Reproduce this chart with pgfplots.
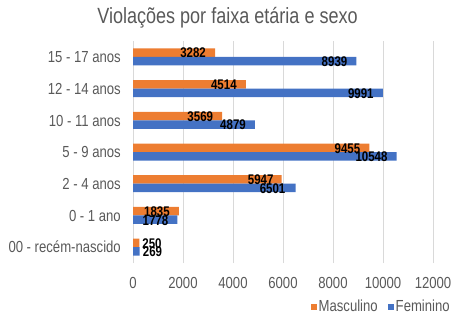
\documentclass[border=0pt]{standalone}
\usepackage{fontspec}
\setmainfont{Liberation Sans}[FakeStretch=0.82]
\usepackage{pgfplots}
\pgfplotsset{compat=1.18}
\usepackage{pgfplotstable}
\definecolor{morange}{HTML}{ED7D31}
\definecolor{fblue}{HTML}{4472C4}
\definecolor{txtgray}{HTML}{595959}
\definecolor{gridgray}{HTML}{D9D9D9}

\pgfplotstableread{
y x sh
0 250 22.5
1 1835 -9
2 5947 -8
3 9455 -9
4 3569 -9
5 4514 -9
6 3282 -9
}\masc
\pgfplotstableread{
y x sh
0 269 22.5
1 1778 -9
2 6501 -10
3 10548 -9
4 4879 -9
5 9991 -9
6 8939 -9
}\fem

\begin{document}
\begin{tikzpicture}[x=1pt,y=1pt]
\path[use as bounding box] (0,0) rectangle (460,319);
\begin{axis}[
  at={(133pt,56pt)}, anchor=south west,
  scale only axis, width=300pt, height=222pt,
  xbar, bar width=8.5pt,
  xmin=0, xmax=12000,
  xtick={0,2000,...,12000},
  scaled x ticks=false,
  ymin=-0.5, ymax=6.5,
  ytick={0,...,6},
  yticklabels={00 - recém-nascido, 0 - 1 ano, 2 - 4 anos, 5 - 9 anos, 10 - 11 anos, 12 - 14 anos, 15 - 17 anos},
  axis line style={draw=none},
  major tick length=0pt,
  xmajorgrids, grid style={gridgray, line width=0.8pt},
  /pgf/number format/assume math mode=true,
  /pgf/number format/1000 sep={},
  tick label style={font=\fontsize{16}{18}\selectfont, text=txtgray, inner sep=0pt},
  xticklabel style={anchor=north, yshift=-14pt},
  yticklabel style={anchor=base east, xshift=-12pt, yshift=-5.8pt},
  point meta=x,
  nodes near coords,
  visualization depends on={\thisrow{sh} \as \sh},
  every node near coord/.append style={font=\bfseries\fontsize{14}{16}\selectfont, text=black, anchor=east, inner sep=0pt, xshift=\sh pt, yshift=-0.5pt},
  legend style={at={(axis description cs:1.063,-0.197)}, anchor=east, draw=none, fill=none, inner sep=0pt,
    font=\fontsize{16}{18}\selectfont, text=txtgray, legend columns=2,
    /tikz/every even column/.append style={column sep=8pt}},
  legend image code/.code={\fill[#1] (0pt,-3pt) rectangle (6pt,3pt);},
  legend cell align=left,
]
\addplot[fill=morange, draw=none, bar shift=4.25pt] table[x=x, y=y] {\masc};
\addlegendentry{Masculino}
\addplot[fill=fblue, draw=none, bar shift=-4.25pt] table[x=x, y=y] {\fem};
\addlegendentry{Feminino}
\end{axis}
\node[font=\fontsize{22}{26}\selectfont, text=txtgray] at (227.5,301) {Violações por faixa etária e sexo};
\end{tikzpicture}
\end{document}
